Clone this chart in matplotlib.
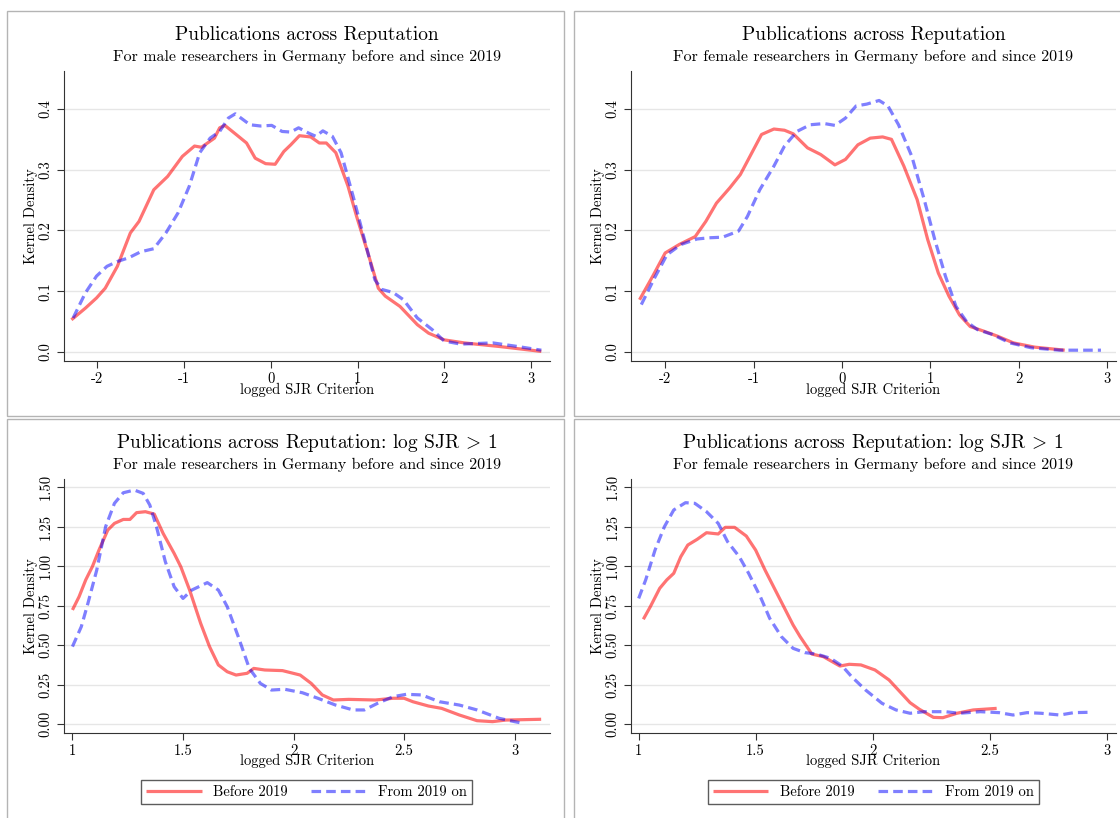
import numpy as np
import matplotlib
matplotlib.use("Agg")
from matplotlib import pyplot as plt
from matplotlib.patches import Rectangle

plt.rcParams['font.family'] = 'serif'
plt.rcParams['font.serif'] = ['cmr10']
plt.rcParams['mathtext.fontset'] = 'cm'
plt.rcParams['axes.unicode_minus'] = False
plt.rcParams['axes.formatter.use_mathtext'] = True

# kernel density estimates, all publications (logged SJR)
male_before_x = [-2.30, -2.14, -2.01, -1.91, -1.77, -1.62, -1.52, -1.35, -1.19, -1.02, -0.88, -0.80,
                 -0.65, -0.59, -0.53, -0.40, -0.28, -0.18, -0.06, 0.05, 0.15, 0.23, 0.33, 0.46,
                 0.56, 0.64, 0.75, 0.89, 0.99, 1.12, 1.24, 1.32, 1.49, 1.69, 1.82, 2.00, 2.23,
                 2.64, 3.12]
male_before_y = [0.053, 0.072, 0.089, 0.105, 0.141, 0.196, 0.215, 0.267, 0.289, 0.322, 0.339, 0.337,
                 0.352, 0.369, 0.373, 0.358, 0.344, 0.319, 0.310, 0.309, 0.330, 0.341, 0.356, 0.354,
                 0.344, 0.344, 0.328, 0.273, 0.223, 0.163, 0.105, 0.092, 0.075, 0.045, 0.031, 0.020,
                 0.015, 0.009, 0.001]
male_after_x = [-2.28, -2.14, -2.01, -1.89, -1.77, -1.64, -1.50, -1.35, -1.21, -1.07, -0.94, -0.82,
                -0.70, -0.59, -0.49, -0.41, -0.24, -0.12, 0.01, 0.13, 0.23, 0.32, 0.44, 0.52, 0.60,
                0.71, 0.81, 0.95, 1.08, 1.20, 1.28, 1.41, 1.53, 1.69, 1.86, 2.00, 2.19, 2.56, 2.85,
                3.12]
male_after_y = [0.056, 0.097, 0.125, 0.141, 0.149, 0.155, 0.165, 0.170, 0.196, 0.229, 0.273, 0.328,
                0.352, 0.363, 0.385, 0.392, 0.374, 0.372, 0.373, 0.363, 0.362, 0.369, 0.360, 0.355,
                0.364, 0.355, 0.328, 0.256, 0.185, 0.119, 0.103, 0.098, 0.086, 0.056, 0.037, 0.018,
                0.013, 0.015, 0.009, 0.003]

female_before_x = [-2.29, -2.14, -2.00, -1.84, -1.66, -1.54, -1.42, -1.27, -1.15, -1.03, -0.91, -0.77,
                   -0.65, -0.55, -0.39, -0.24, -0.08, 0.04, 0.18, 0.32, 0.46, 0.56, 0.70, 0.85, 0.97,
                   1.09, 1.21, 1.33, 1.45, 1.61, 1.76, 1.94, 2.18, 2.52]
female_before_y = [0.086, 0.125, 0.163, 0.177, 0.190, 0.215, 0.245, 0.270, 0.292, 0.325, 0.358, 0.367,
                   0.365, 0.359, 0.336, 0.325, 0.308, 0.317, 0.341, 0.352, 0.354, 0.350, 0.306, 0.251,
                   0.185, 0.130, 0.092, 0.061, 0.042, 0.034, 0.026, 0.015, 0.008, 0.003]
female_after_x = [-2.27, -2.12, -1.98, -1.82, -1.64, -1.50, -1.35, -1.17, -1.07, -0.93, -0.77, -0.65,
                  -0.51, -0.36, -0.20, -0.08, 0.04, 0.16, 0.28, 0.42, 0.52, 0.64, 0.79, 0.93, 1.05,
                  1.17, 1.29, 1.41, 1.53, 1.70, 1.90, 2.14, 2.46, 2.93]
female_after_y = [0.078, 0.122, 0.160, 0.177, 0.186, 0.188, 0.189, 0.199, 0.223, 0.267, 0.306, 0.339,
                  0.363, 0.374, 0.376, 0.373, 0.385, 0.405, 0.408, 0.414, 0.405, 0.374, 0.322, 0.251,
                  0.185, 0.125, 0.075, 0.050, 0.037, 0.029, 0.015, 0.007, 0.003, 0.003]

# kernel density estimates, log SJR > 1
male_hi_before_x = [1.00, 1.03, 1.06, 1.09, 1.12, 1.16, 1.19, 1.23, 1.26, 1.29, 1.33, 1.37, 1.41, 1.46,
                    1.49, 1.53, 1.58, 1.62, 1.66, 1.70, 1.74, 1.79, 1.82, 1.87, 1.95, 2.03, 2.08, 2.13,
                    2.18, 2.25, 2.37, 2.45, 2.50, 2.54, 2.61, 2.67, 2.75, 2.83, 2.90, 2.96, 3.12]
male_hi_before_y = [0.724, 0.808, 0.914, 0.998, 1.103, 1.230, 1.272, 1.297, 1.297, 1.340, 1.346, 1.331,
                    1.209, 1.082, 0.998, 0.850, 0.639, 0.492, 0.376, 0.333, 0.312, 0.323, 0.354, 0.344,
                    0.340, 0.312, 0.259, 0.186, 0.154, 0.158, 0.154, 0.165, 0.165, 0.143, 0.116, 0.101,
                    0.059, 0.023, 0.017, 0.027, 0.032]
male_hi_after_x = [1.00, 1.04, 1.07, 1.11, 1.15, 1.19, 1.23, 1.28, 1.32, 1.35, 1.38, 1.42, 1.46, 1.50,
                   1.54, 1.61, 1.66, 1.70, 1.75, 1.80, 1.85, 1.90, 1.96, 2.04, 2.11, 2.19, 2.27, 2.32,
                   2.38, 2.45, 2.51, 2.58, 2.66, 2.75, 2.83, 2.93, 3.00, 3.04]
male_hi_after_y = [0.492, 0.618, 0.766, 0.977, 1.251, 1.399, 1.466, 1.483, 1.462, 1.388, 1.251, 1.030,
                   0.871, 0.797, 0.850, 0.897, 0.850, 0.745, 0.555, 0.354, 0.259, 0.217, 0.222, 0.200,
                   0.165, 0.122, 0.091, 0.091, 0.133, 0.175, 0.190, 0.186, 0.143, 0.122, 0.091, 0.038,
                   0.017, 0.006]

female_hi_before_x = [1.02, 1.05, 1.09, 1.12, 1.15, 1.18, 1.21, 1.25, 1.29, 1.34, 1.37, 1.41, 1.46, 1.50,
                      1.54, 1.58, 1.62, 1.66, 1.69, 1.74, 1.79, 1.86, 1.90, 1.95, 2.01, 2.07, 2.11, 2.16,
                      2.20, 2.26, 2.30, 2.36, 2.43, 2.53]
female_hi_before_y = [0.665, 0.745, 0.861, 0.914, 0.956, 1.061, 1.135, 1.171, 1.213, 1.205, 1.247, 1.247,
                      1.192, 1.103, 0.977, 0.861, 0.745, 0.629, 0.555, 0.445, 0.428, 0.369, 0.380, 0.376,
                      0.344, 0.281, 0.217, 0.137, 0.095, 0.044, 0.042, 0.070, 0.091, 0.101]
female_hi_after_x = [1.00, 1.03, 1.07, 1.11, 1.15, 1.20, 1.24, 1.29, 1.34, 1.38, 1.43, 1.47, 1.52, 1.56,
                     1.61, 1.66, 1.71, 1.76, 1.82, 1.87, 1.91, 1.97, 2.04, 2.10, 2.16, 2.22, 2.31, 2.37,
                     2.46, 2.54, 2.60, 2.66, 2.72, 2.80, 2.86, 2.92]
female_hi_after_y = [0.797, 0.914, 1.103, 1.251, 1.357, 1.403, 1.399, 1.346, 1.272, 1.156, 1.061, 0.956,
                     0.808, 0.671, 0.555, 0.481, 0.454, 0.445, 0.418, 0.369, 0.302, 0.217, 0.133, 0.091,
                     0.070, 0.080, 0.080, 0.070, 0.080, 0.074, 0.059, 0.074, 0.070, 0.059, 0.074, 0.076]

xticks_all = [-2, -1, 0, 1, 2, 3]
yticks_all = [0.0, 0.1, 0.2, 0.3, 0.4]
xticks_hi = [1, 1.5, 2, 2.5, 3]
yticks_hi = [0.0, 0.25, 0.5, 0.75, 1.0, 1.25, 1.5]

title_all = "Publications across Reputation"
title_hi = r"Publications across Reputation: log SJR $\!>\!$ 1"
sub_male = "For male researchers in Germany before and since 2019"
sub_female = "For female researchers in Germany before and since 2019"

W, H = 1120, 818
fig = plt.figure(figsize=(W / 100, H / 100), dpi=100)


def px_axes(left, top, right, bottom):
    return fig.add_axes([left / W, 1 - bottom / H, (right - left) / W, (bottom - top) / H])


def panel(ax, xb, yb, xa, ya, xticks, yticks, ydec, xlim, ylim, title, sub, title_y, legend=False):
    ax.plot(xb, yb, color='red', alpha=0.55, lw=2.3, solid_capstyle='butt', label='Before 2019')
    ax.plot(xa, ya, color='blue', alpha=0.5, lw=2.3, dashes=(3, 1.6), label='From 2019 on')
    ax.set_xlim(xlim)
    ax.set_ylim(ylim)
    ax.set_xticks(xticks)
    ax.set_xticklabels(['%g' % t for t in xticks])
    ax.set_yticks(yticks)
    ax.set_yticklabels([('%.' + str(ydec) + 'f') % t for t in yticks], rotation=90, va='center')
    ax.grid(axis='y', color='#e6e6e6', lw=1)
    ax.set_axisbelow(True)
    for s in ['top', 'right']:
        ax.spines[s].set_visible(False)
    for s in ['left', 'bottom']:
        ax.spines[s].set_color('#333333')
    ax.tick_params(labelsize=10.5, length=5, color='#333333', pad=3)
    ax.set_xlabel('logged SJR Criterion', fontsize=10.5)
    ax.set_ylabel('Kernel Density', fontsize=10.5)
    ax.xaxis.set_label_coords(0.5, -0.075 if not legend else -0.085)
    ax.yaxis.set_label_coords(-0.067, 0.5)
    ax.yaxis.label.set_va('center')

    # title and subtitle centred over the plot region
    bb = ax.get_position()
    cx = (bb.x0 + bb.x1) / 2
    fig.text(cx, 1 - title_y / H, title, fontsize=14, ha='center', va='center')
    fig.text(cx, 1 - (title_y + 22) / H, sub, fontsize=11.5, ha='center', va='center')

    if legend:
        leg = ax.legend(loc='center', bbox_to_anchor=(0.5, -0.234), ncol=2, fontsize=10.5,
                        fancybox=False, edgecolor='#333333', handlelength=3.8,
                        columnspacing=1.6, borderpad=0.35)
        leg.get_frame().set_linewidth(1)


ax1 = px_axes(63.6, 71, 550, 361)
panel(ax1, male_before_x, male_before_y, male_after_x, male_after_y, xticks_all, yticks_all, 1,
      (-2.39, 3.22), (-0.0148, 0.4625), title_all, sub_male, 35)
ax2 = px_axes(630.7, 71, 1116, 361)
panel(ax2, female_before_x, female_before_y, female_after_x, female_after_y, xticks_all, yticks_all, 1,
      (-2.39, 3.10), (-0.0148, 0.4625), title_all, sub_female, 35)
ax3 = px_axes(63.6, 479, 550, 732.7)
panel(ax3, male_hi_before_x, male_hi_before_y, male_hi_after_x, male_hi_after_y, xticks_hi, yticks_hi, 2,
      (0.96, 3.16), (-0.053, 1.553), title_hi, sub_male, 443, legend=True)
ax4 = px_axes(630.7, 479, 1116, 732.7)
panel(ax4, female_hi_before_x, female_hi_before_y, female_hi_after_x, female_hi_after_y, xticks_hi,
      yticks_hi, 2, (0.966, 3.04), (-0.053, 1.553), title_hi, sub_female, 443, legend=True)

# frames around each graph
for l, t, r, b in [(7, 11, 564, 416), (574, 11, 1125, 416), (7, 419, 564, 825), (574, 419, 1125, 825)]:
    fig.add_artist(Rectangle((l / W, 1 - b / H), (r - l) / W, (b - t) / H, transform=fig.transFigure,
                             fill=False, edgecolor='#b4b4b4', lw=1))

fig.savefig('out.png', dpi=100)
